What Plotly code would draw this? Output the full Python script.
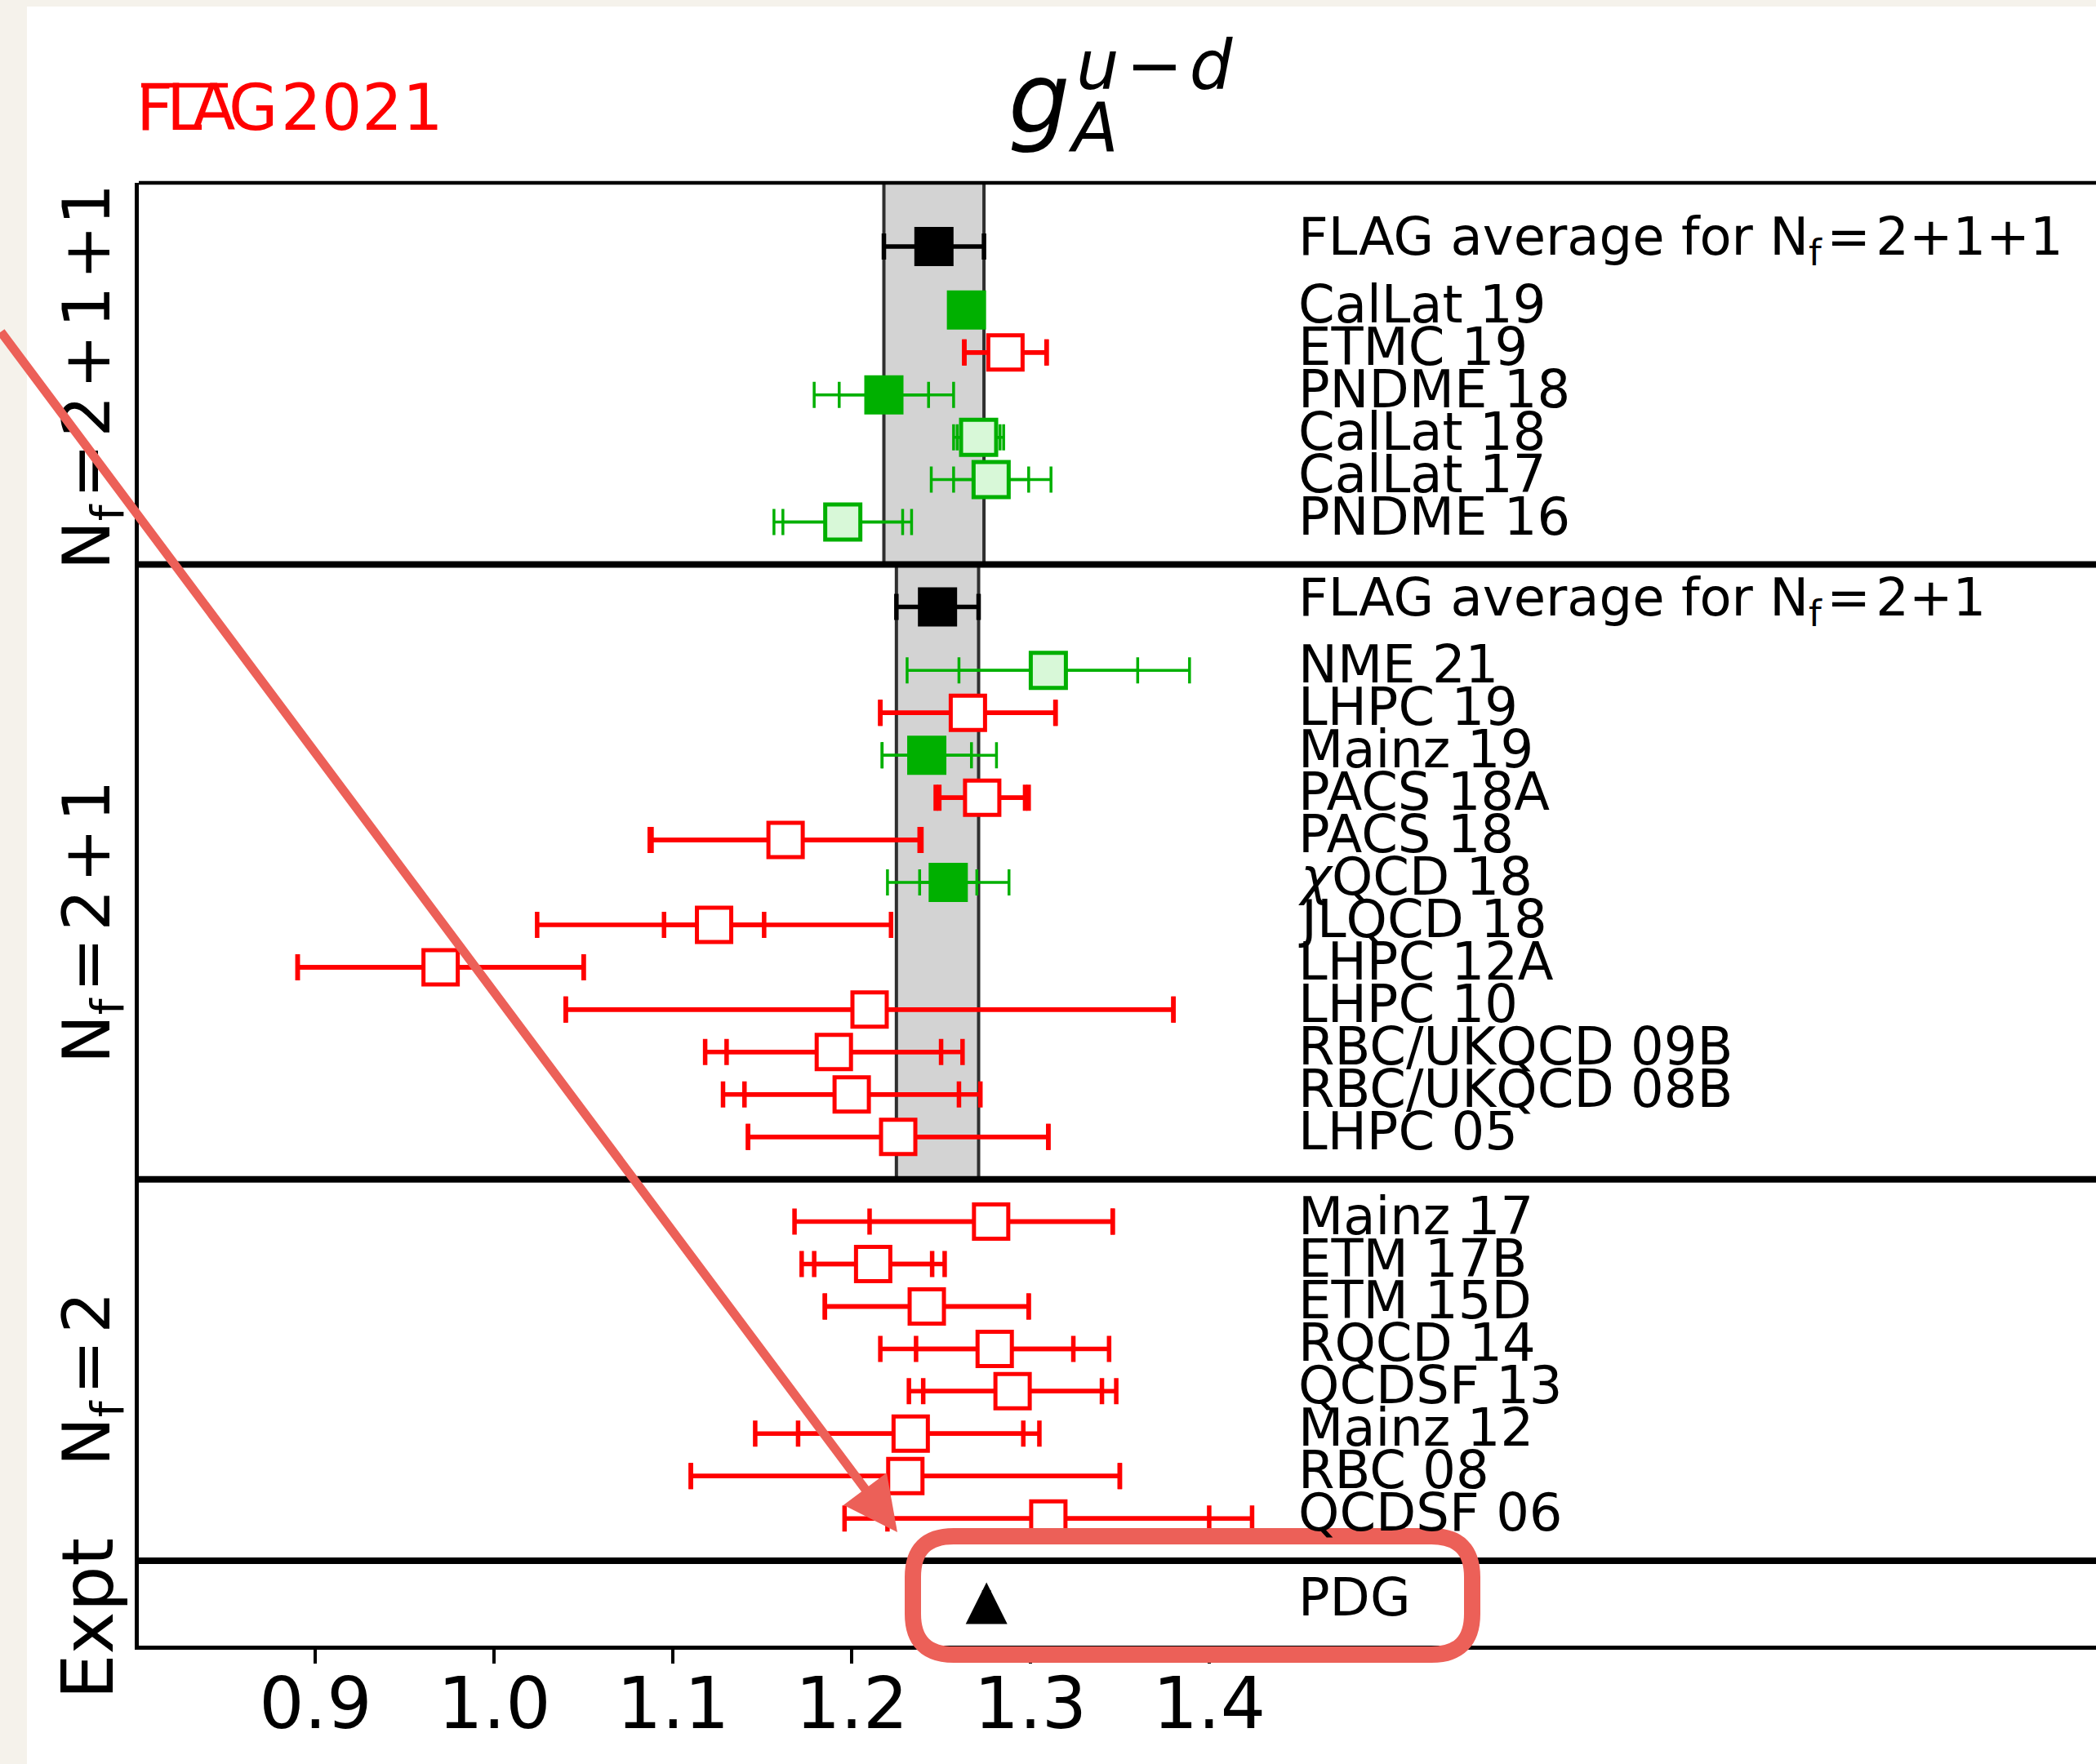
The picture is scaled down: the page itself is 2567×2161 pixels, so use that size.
import plotly.graph_objects as go

# ---------------- data ----------------
HS = "\u200a"  # hair space used in the math-like labels
avg_labels = [f"FLAG average for N<sub>f</sub>{HS}={HS}2+1+1",
              f"FLAG average for N<sub>f</sub>{HS}={HS}2+1"]
avg_values = [1.246, 1.248]
avg_errors = [0.028, 0.023]

nf2111_labels = ["CalLat 19", "ETMC 19", "PNDME 18", "CalLat 18", "CalLat 17", "PNDME 16"]
nf2111_values = [1.2642, 1.286, 1.218, 1.271, 1.278, 1.195]
nf2111_stat_lo = [0.0093, 0.023, 0.025, 0.012, 0.021, 0.0335]
nf2111_stat_hi = [0.0093, 0.023, 0.025, 0.012, 0.021, 0.0335]
nf2111_tot_lo = [0.0093, 0.023, 0.039, 0.014, 0.0335, 0.0385]
nf2111_tot_hi = [0.0093, 0.023, 0.039, 0.014, 0.0335, 0.0385]
nf2111_status = ["pass", "fail", "pass", "partial", "partial", "partial"]

nf21_labels = ["NME 21", "LHPC 19", "Mainz 19", "PACS 18A", "PACS 18", "<i>\u03c7</i>QCD 18",
               "JLQCD 18", "LHPC 12A", "LHPC 10", "RBC/UKQCD 09B", "RBC/UKQCD 08B", "LHPC 05"]
nf21_values = [1.31, 1.265, 1.242, 1.273, 1.163, 1.254, 1.123, 0.97, 1.21, 1.19, 1.20, 1.226]
nf21_stat_lo = [0.050, 0.049, 0.025, 0.024, 0.075, 0.016, 0.028, 0.08, 0.17, 0.06, 0.06, 0.084]
nf21_stat_hi = [0.050, 0.049, 0.025, 0.024, 0.075, 0.016, 0.028, 0.08, 0.17, 0.06, 0.06, 0.084]
nf21_tot_lo = [0.079, 0.049, 0.025, 0.026, 0.076, 0.034, 0.099, 0.08, 0.17, 0.072, 0.072, 0.084]
nf21_tot_hi = [0.079, 0.049, 0.039, 0.026, 0.076, 0.034, 0.099, 0.08, 0.17, 0.072, 0.072, 0.084]
nf21_status = ["partial", "fail", "pass", "fail", "fail", "pass",
               "fail", "fail", "fail", "fail", "fail", "fail"]

nf2_labels = ["Mainz 17", "ETM 17B", "ETM 15D", "RQCD 14", "QCDSF 13", "Mainz 12", "RBC 08", "QCDSF 06"]
nf2_values = [1.278, 1.212, 1.242, 1.280, 1.29, 1.233, 1.23, 1.31]
nf2_stat_lo = [0.068, 0.033, 0.057, 0.044, 0.050, 0.063, 0.12, 0.09]
nf2_stat_hi = [0.068, 0.033, 0.057, 0.044, 0.050, 0.063, 0.12, 0.09]
nf2_tot_lo = [0.110, 0.040, 0.057, 0.064, 0.058, 0.087, 0.12, 0.114]
nf2_tot_hi = [0.068, 0.040, 0.057, 0.064, 0.058, 0.072, 0.12, 0.114]
nf2_status = ["fail"] * 8

expt_labels = ["PDG"]
expt_values = [1.2754]
expt_errors = [0.0013]

panel_titles = [f"N<sub>f</sub>{HS}={HS}2{HS}+{HS}1{HS}+1",
                f"N<sub>f</sub>{HS}={HS}2{HS}+{HS}1",
                f"N<sub>f</sub>{HS}={HS}2", "Expt"]

x_ticks = [0.9, 1.0, 1.1, 1.2, 1.3, 1.4]
x_tick_text = ["0.9", "1.0", "1.1", "1.2", "1.3", "1.4"]

# ---------------- geometry ----------------
FIG_W, FIG_H = 2567, 2161
M_L, M_T, M_B = 170, 224, 145
PLOT_W = FIG_W - M_L
PLOT_H = FIG_H - M_T - M_B
X_MIN, X_MAX = 0.80114, 1.89616


def px_x(px):
    return (px - M_L) / PLOT_W


def px_y(py):
    return (FIG_H - M_B - py) / PLOT_H


def data_x(px):
    return X_MIN + (px - M_L) * (X_MAX - X_MIN) / PLOT_W


# row layout (rows counted downward from the top frame)
y_avg1 = 1.5
y_nf2111 = [3 + i for i in range(len(nf2111_labels))]
sep1 = y_nf2111[-1] + 1
y_avg2 = sep1 + 1
y_nf21 = [y_avg2 + 1.5 + i for i in range(len(nf21_labels))]
sep2 = y_nf21[-1] + 1
y_nf2 = [sep2 + 1 + i for i in range(len(nf2_labels))]
sep3 = y_nf2[-1] + 1
y_expt = [sep3 + 1]
y_bottom = y_expt[-1] + 1
PX_PER_ROW = PLOT_H / y_bottom

GREEN = "#00B000"
LIGHT = "#D8F8D8"
RED = "#FF0000"
STYLE = {
    "pass": dict(fill=GREEN, edge=GREEN, size=48, lw=0, ecolor=GREEN, ew=3.5),
    "partial": dict(fill=LIGHT, edge=GREEN, size=43, lw=5, ecolor=GREEN, ew=3.5),
    "fail": dict(fill="white", edge=RED, size=42, lw=5, ecolor=RED, ew=5.5),
}

entries = []
for labs, vals, slo, shi, tlo, thi, st, ys in [
    (nf2111_labels, nf2111_values, nf2111_stat_lo, nf2111_stat_hi, nf2111_tot_lo, nf2111_tot_hi, nf2111_status, y_nf2111),
    (nf21_labels, nf21_values, nf21_stat_lo, nf21_stat_hi, nf21_tot_lo, nf21_tot_hi, nf21_status, y_nf21),
    (nf2_labels, nf2_values, nf2_stat_lo, nf2_stat_hi, nf2_tot_lo, nf2_tot_hi, nf2_status, y_nf2),
]:
    for i in range(len(labs)):
        entries.append(dict(label=labs[i], v=vals[i], slo=slo[i], shi=shi[i],
                            tlo=tlo[i], thi=thi[i], st=st[i], y=ys[i]))

fig = go.Figure()


def err_trace(xs, ys, lo, hi, color, thick):
    return go.Scatter(x=xs, y=ys, mode="markers",
                      marker=dict(size=2, color="rgba(0,0,0,0)"),
                      error_x=dict(type="data", symmetric=False, array=hi, arrayminus=lo,
                                   color=color, thickness=thick, width=16),
                      hoverinfo="skip", showlegend=False)


# error bars first
for st, s in STYLE.items():
    sel = [e for e in entries if e["st"] == st]
    xs = [e["v"] for e in sel]
    ys = [e["y"] for e in sel]
    fig.add_trace(err_trace(xs, ys, [e["tlo"] for e in sel], [e["thi"] for e in sel], s["ecolor"], s["ew"]))
    fig.add_trace(err_trace(xs, ys, [e["slo"] for e in sel], [e["shi"] for e in sel], s["ecolor"], s["ew"]))

fig.add_trace(err_trace(avg_values, [y_avg1, y_avg2], avg_errors, avg_errors, "black", 5.5))
fig.add_trace(err_trace(expt_values, y_expt, expt_errors, expt_errors, "black", 5))

# markers
for st, s in STYLE.items():
    sel = [e for e in entries if e["st"] == st]
    fig.add_trace(go.Scatter(
        x=[e["v"] for e in sel], y=[e["y"] for e in sel], mode="markers",
        marker=dict(symbol="square", size=s["size"], color=s["fill"],
                    line=dict(color=s["edge"], width=s["lw"])),
        hoverinfo="skip", showlegend=False))

fig.add_trace(go.Scatter(x=avg_values, y=[y_avg1, y_avg2], mode="markers",
                         marker=dict(symbol="square", size=48, color="black", line=dict(width=0)),
                         hoverinfo="skip", showlegend=False))
# PDG triangle: the 'arrow-up' symbol has its apex at the anchor, so lift it by half its height
TRI = 51
fig.add_trace(go.Scatter(x=expt_values, y=[y - (TRI / 2) / PX_PER_ROW for y in y_expt], mode="markers",
                         marker=dict(symbol="arrow-up", size=TRI, color="black", line=dict(width=0)),
                         hoverinfo="skip", showlegend=False))

# ---------------- shapes ----------------
shapes = []
# white figure sheet on the beige background
shapes.append(dict(type="rect", xref="paper", yref="paper", layer="below",
                   x0=px_x(33), x1=px_x(FIG_W + 5), y0=px_y(FIG_H + 5), y1=px_y(8),
                   fillcolor="white", line=dict(width=0)))
# FLAG average bands
for v, e, ya, yb in [(avg_values[0], avg_errors[0], 0, sep1), (avg_values[1], avg_errors[1], sep1, sep2)]:
    shapes.append(dict(type="rect", xref="x", yref="y", layer="below",
                       x0=v - e, x1=v + e, y0=ya, y1=yb,
                       fillcolor="#D3D3D3", line=dict(color="#2F2F2F", width=4)))
# top frame and separators
shapes.append(dict(type="line", xref="paper", yref="paper", x0=0, x1=1, y0=1, y1=1,
                   line=dict(color="black", width=4.5)))
for s_ in [sep1, sep2, sep3]:
    shapes.append(dict(type="line", xref="paper", yref="y", x0=0, x1=1, y0=s_, y1=s_,
                       line=dict(color="black", width=8)))
# FLAG logo overline
shapes.append(dict(type="line", xref="paper", yref="paper", x0=px_x(173), x1=px_x(279),
                   y0=px_y(104.5), y1=px_y(104.5), line=dict(color=RED, width=5.5)))

# hand-drawn highlight around PDG (rounded rectangle)
HL = "#EC6058"
rx0, rx1 = data_x(1118), data_x(1803)
ry_top, ry_bot = px_y(1882), px_y(2027)
crx = data_x(1118 + 50) - data_x(1118)
cry = 50 / PLOT_H
path = (f"M {rx0 + crx},{ry_top} L {rx1 - crx},{ry_top} Q {rx1},{ry_top} {rx1},{ry_top - cry} "
        f"L {rx1},{ry_bot + cry} Q {rx1},{ry_bot} {rx1 - crx},{ry_bot} "
        f"L {rx0 + crx},{ry_bot} Q {rx0},{ry_bot} {rx0},{ry_bot + cry} "
        f"L {rx0},{ry_top - cry} Q {rx0},{ry_top} {rx0 + crx},{ry_top} Z")
shapes.append(dict(type="path", xref="x", yref="paper", path=path,
                   line=dict(color=HL, width=20), fillcolor="rgba(0,0,0,0)"))

# ---------------- annotations ----------------
ann = []
LABEL_X = data_x(1588)
LABEL_FONT = dict(family="DejaVu Sans", size=64, color="black")
for lab, y in zip(avg_labels, [y_avg1, y_avg2]):
    ann.append(dict(x=LABEL_X, y=y, xref="x", yref="y", text=lab, showarrow=False,
                    xanchor="left", yanchor="middle", yshift=7, font=LABEL_FONT))
for e in entries:
    ann.append(dict(x=LABEL_X, y=e["y"], xref="x", yref="y", text=e["label"], showarrow=False,
                    xanchor="left", yanchor="middle", yshift=7, font=LABEL_FONT))
for lab, y in zip(expt_labels, y_expt):
    ann.append(dict(x=LABEL_X, y=y, xref="x", yref="y", text=lab, showarrow=False,
                    xanchor="left", yanchor="middle", yshift=7, font=LABEL_FONT))

# panel titles on the left (rotated)
panel_centers_px = [462, 1130, 1690, 1983]
panel_sizes = [80, 80, 80, 88]
panel_x = [112, 112, 112, 107]
for t, cy, fs, cx in zip(panel_titles, panel_centers_px, panel_sizes, panel_x):
    ann.append(dict(x=px_x(cx), y=px_y(cy), xref="paper", yref="paper", text=t, showarrow=False,
                    textangle=-90, xanchor="center", yanchor="middle",
                    font=dict(family="DejaVu Sans", size=fs, color="black")))

# title g_A^{u-d}
ann.append(dict(x=px_x(1273), y=px_y(121), xref="paper", yref="paper", text="<i>g</i>",
                showarrow=False, xanchor="center", yanchor="middle",
                font=dict(family="DejaVu Sans", size=119, color="black")))
ann.append(dict(x=px_x(1339), y=px_y(158), xref="paper", yref="paper", text="<i>A</i>",
                showarrow=False, xanchor="center", yanchor="middle",
                font=dict(family="DejaVu Sans", size=83, color="black")))
ann.append(dict(x=px_x(1414), y=px_y(81), xref="paper", yref="paper",
                text="<i>u</i>\u200a\u2212\u200a<i>d</i>",
                showarrow=False, xanchor="center", yanchor="middle",
                font=dict(family="DejaVu Sans", size=83, color="black")))

# FLAG 2021 logo
for ch, cx in [("F", 189), ("L", 226), ("A", 261), ("G", 309.5), ("2021", 443)]:
    ann.append(dict(x=px_x(cx), y=px_y(132), xref="paper", yref="paper", text=ch,
                    showarrow=False, xanchor="center", yanchor="middle",
                    font=dict(family="DejaVu Sans", size=78, color=RED)))

# hand-drawn arrow
ann.append(dict(x=data_x(1099), y=(1877 - M_T) / PX_PER_ROW, xref="x", yref="y",
                ax=-1099, ay=-(1877 - 405), axref="pixel", ayref="pixel",
                text="", showarrow=True, arrowhead=2, arrowsize=1.2, arrowwidth=11,
                arrowcolor=HL, standoff=0, startstandoff=0))

fig.update_layout(
    width=FIG_W, height=FIG_H,
    margin=dict(l=M_L, r=0, t=M_T, b=M_B, autoexpand=False),
    paper_bgcolor="#F5F2EB", plot_bgcolor="white",
    font=dict(family="DejaVu Sans", color="black"),
    showlegend=False,
    shapes=shapes, annotations=ann,
    xaxis=dict(range=[X_MIN, X_MAX], tickvals=x_ticks, ticktext=x_tick_text,
               ticks="outside", ticklen=17, tickwidth=3.5, tickcolor="black",
               showline=True, linewidth=4.5, linecolor="black", mirror=False,
               showgrid=False, zeroline=False, ticklabelstandoff=-25,
               tickfont=dict(family="DejaVu Sans", size=87, color="black")),
    yaxis=dict(range=[y_bottom, 0], showline=True, linewidth=4.5, linecolor="black",
               ticks="", showticklabels=False, showgrid=False, zeroline=False),
)

fig.write_html("out.html", config=dict(displayModeBar=False),
               post_script="document.body.style.margin='0px';document.body.style.overflow='hidden';")
